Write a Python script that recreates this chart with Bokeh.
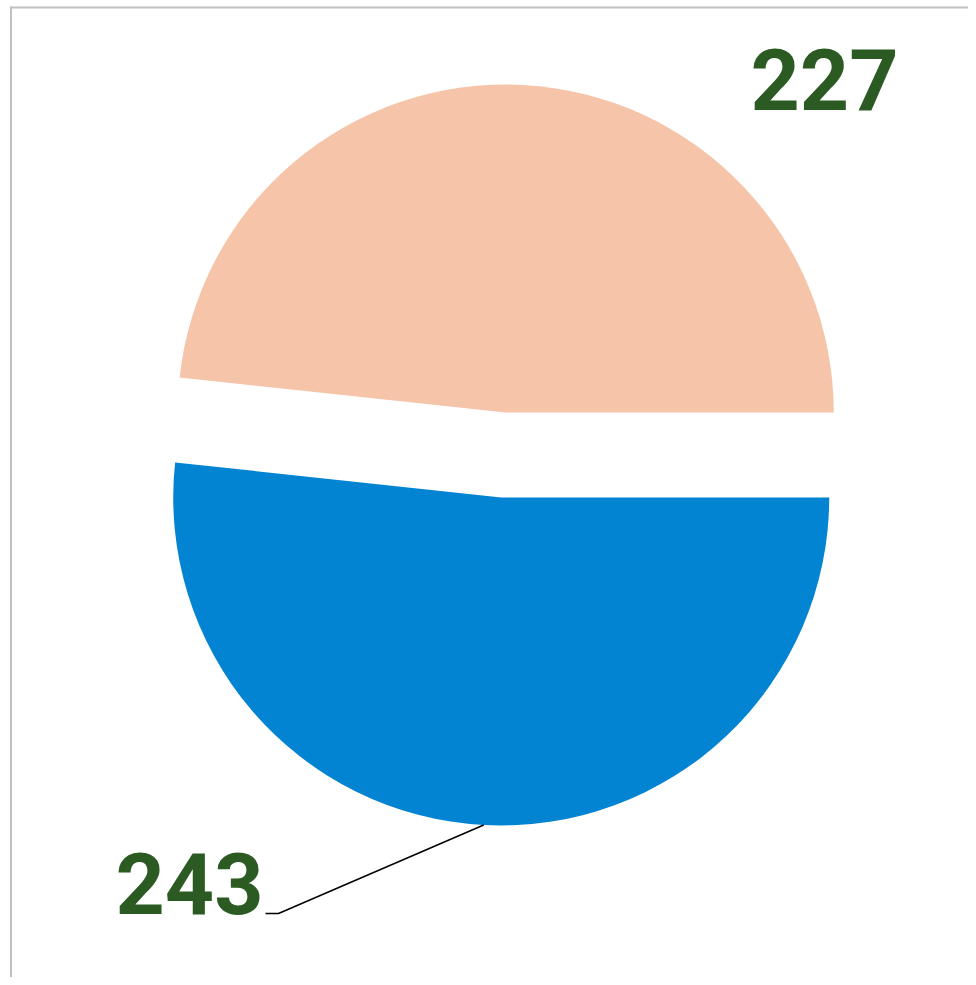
import math
from bokeh.plotting import figure
from bokeh.models import Range1d
from bokeh.core.properties import value
from bokeh.embed import file_html
from bokeh.resources import INLINE

# ---- data ----
categories = ["A", "B"]
values = [227, 243]
labels = ["227", "243"]
colors = ["#F5C4A9", "#0284D2"]

# ---- layout (pixel-like data units, y up: y = 985 - screen_y) ----
W, H = 968, 977
p = figure(width=W, height=H, output_backend="svg", toolbar_location=None,
           x_range=Range1d(0, 968), y_range=Range1d(8, 985),
           min_border=0, outline_line_color=None)
p.axis.visible = False
p.grid.visible = False
p.background_fill_color = "white"
p.border_fill_color = "white"

cx, cy, r = 503.0, 530.5, 328.0
explode = 42.5
total = float(sum(values))

start = 0.0
xs, ys, starts, ends, mids = [], [], [], [], []
for v in values:
    sweep = v / total * 2 * math.pi
    mid = start + sweep / 2
    xs.append(cx + explode * math.cos(mid))
    ys.append(cy + explode * math.sin(mid))
    starts.append(start)
    ends.append(start + sweep)
    mids.append(mid)
    start += sweep

p.wedge(x=xs, y=ys, radius=r, start_angle=starts, end_angle=ends,
        direction="anticlock", fill_color=colors, line_color=None)

# chart frame (left and top edges)
p.line(x=[10.5, 10.5], y=[8, 979], line_color="#C0C0C0", line_width=2)
p.line(x=[10, 968], y=[978, 978], line_color="#C0C0C0", line_width=2)

# leader line for second slice
lx0 = xs[1] + r * math.cos(mids[1])
ly0 = ys[1] + r * math.sin(mids[1])
p.line(x=[lx0, 278, 265], y=[ly0, 72, 72], line_color="black", line_width=1.5)

# labels
green = "#2B5A22"
fs = "86px"
p.text(x=[750], y=[906], text=[labels[0]], text_font=value("Roboto"),
       text_font_style="bold", text_font_size=fs, text_color=green,
       text_baseline="alphabetic", text_align="left")
p.text(x=[115], y=[102], text=[labels[1]], text_font=value("Roboto"),
       text_font_style="bold", text_font_size=fs, text_color=green,
       text_baseline="alphabetic", text_align="left")

open("out.html", "w").write(file_html(p, INLINE))
